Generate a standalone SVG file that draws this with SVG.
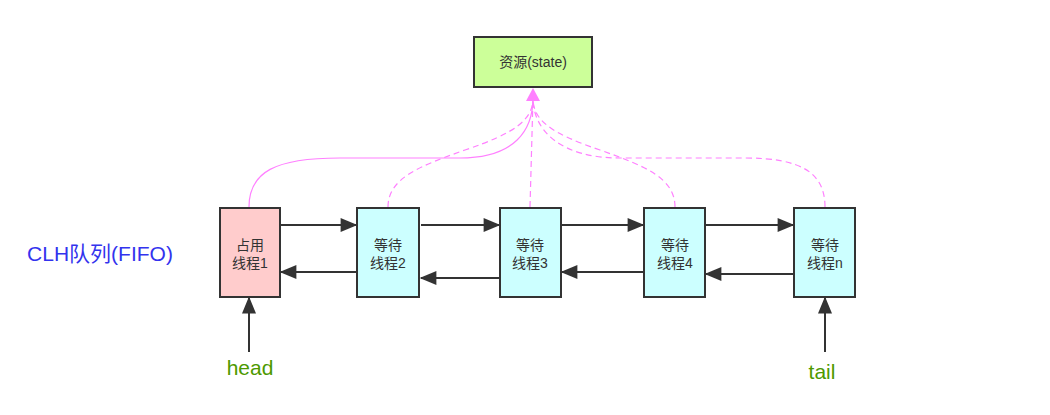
<svg xmlns="http://www.w3.org/2000/svg" width="1050" height="415" viewBox="0 0 1050 415">
<defs>
<style>
.box{stroke:#333;stroke-width:2}
.t{font-family:"Liberation Sans","Noto Sans CJK SC",sans-serif;font-size:14px;fill:#333;text-anchor:middle}
.lab{font-family:"Liberation Sans","Noto Sans CJK SC",sans-serif;font-size:21px;text-anchor:middle}
.link{stroke:#333;stroke-width:2;fill:none}
.pink{stroke:#ff80ff;stroke-width:1.2;fill:none}
.dash{stroke-dasharray:6 4}
</style>
<marker id="bh" viewBox="0 0 12 10" refX="11" refY="5" markerWidth="18" markerHeight="14" orient="auto" markerUnits="userSpaceOnUse">
<path d="M0,0 L12,5 L0,10 z" fill="#333"/>
</marker>
</defs>
<rect width="1050" height="415" fill="#fff"/>
<g id="connectors">
<path class="pink" d="M249,207 C249,172 275,158 340,158 L460,158 C515,158 533,130 533,98"/>
<path class="pink dash" d="M388,207 C388,178 420,166 465,150 C515,133 533,120 533,98"/>
<path class="pink dash" d="M530,207 L533,98"/>
<path class="pink dash" d="M675,207 C675,178 645,166 600,150 C550,133 533,120 533,98"/>
<path class="pink dash" d="M825,207 C825,172 800,158 745,158 L620,158 C560,158 533,130 533,98"/>
<path d="M533,88 L526,101 L540,101 z" fill="#ff80ff"/>
<line class="link" x1="281" y1="225" x2="356" y2="225" marker-end="url(#bh)"/>
<line class="link" x1="356" y1="272" x2="281" y2="272" marker-end="url(#bh)"/>
<line class="link" x1="421" y1="225" x2="499" y2="225" marker-end="url(#bh)"/>
<line class="link" x1="499" y1="278" x2="421" y2="278" marker-end="url(#bh)"/>
<line class="link" x1="562" y1="225" x2="643" y2="225" marker-end="url(#bh)"/>
<line class="link" x1="643" y1="272" x2="562" y2="272" marker-end="url(#bh)"/>
<line class="link" x1="706" y1="225" x2="793" y2="225" marker-end="url(#bh)"/>
<line class="link" x1="793" y1="274" x2="706" y2="274" marker-end="url(#bh)"/>
<line class="link" x1="249" y1="352" x2="249" y2="298" marker-end="url(#bh)"/>
<line class="link" x1="825" y1="352" x2="825" y2="298" marker-end="url(#bh)"/>
</g>
<g id="state">
<rect class="box" x="474" y="37" width="118" height="50" fill="#ccff99"/>
<text class="t" x="533" y="67">资源(state)</text>
</g>
<g id="node1">
<rect class="box" x="220" y="208" width="60" height="89" fill="#ffcccc"/>
<text class="t" x="250" y="250">占用</text>
<text class="t" x="250" y="268">线程1</text>
</g>
<g id="node2">
<rect class="box" x="357" y="208" width="62" height="89" fill="#ccffff"/>
<text class="t" x="388" y="250">等待</text>
<text class="t" x="388" y="268">线程2</text>
</g>
<g id="node3">
<rect class="box" x="500" y="208" width="61" height="89" fill="#ccffff"/>
<text class="t" x="530" y="250">等待</text>
<text class="t" x="530" y="268">线程3</text>
</g>
<g id="node4">
<rect class="box" x="644" y="208" width="61" height="89" fill="#ccffff"/>
<text class="t" x="675" y="250">等待</text>
<text class="t" x="675" y="268">线程4</text>
</g>
<g id="noden">
<rect class="box" x="794" y="208" width="61" height="89" fill="#ccffff"/>
<text class="t" x="825" y="250">等待</text>
<text class="t" x="825" y="268">线程n</text>
</g>
<g id="labels">
<text class="lab" x="100" y="261" fill="#3333ee">CLH队列(FIFO)</text>
<text class="lab" x="250" y="375" fill="#4d9900">head</text>
<text class="lab" x="822" y="379" fill="#4d9900">tail</text>
</g>
</svg>
